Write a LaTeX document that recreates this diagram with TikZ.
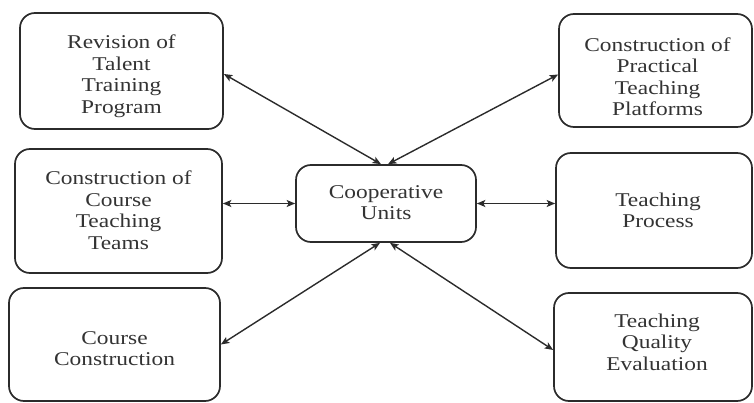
\documentclass[tikz,border=0pt]{standalone}
\usepackage{fontspec}
\setmainfont{Liberation Serif}[FakeStretch=1.2]
\usetikzlibrary{arrows.meta,calc}
\definecolor{inkgray}{gray}{0.17}
\definecolor{textgray}{gray}{0.2}
\begin{document}
\begin{tikzpicture}[x=1pt,y=-1pt,
  unitbox/.style={draw=inkgray, line width=1.7pt, rounded corners=15pt, inner sep=0pt},
  boxtext/.style={align=center, inner sep=0pt, text=textgray,
    font=\fontsize{19.5}{21.5}\selectfont},
  link/.style={draw=inkgray, line width=1.4pt,
    {Stealth[length=8.5pt,width=7pt,inset=2pt]}-{Stealth[length=8.5pt,width=7pt,inset=2pt]}}]
\useasboundingbox (0,0) rectangle (754,403);

% left column
\node[unitbox, minimum width=203pt, minimum height=116pt] (revision) at (121.5,71) {};
\node[boxtext] (revision-t) at ($(revision)+(0,5)$) {Revision of\\Talent\\Training\\Program};
\node[unitbox, minimum width=207pt, minimum height=124pt] (teams) at (118.5,211) {};
\node[boxtext] (teams-t) at ($(teams)+(0,-1)$) {Construction of\\Course\\Teaching\\Teams};
\node[unitbox, minimum width=211pt, minimum height=113pt] (course) at (114.5,344.5) {};
\node[boxtext] (course-t) at ($(course)+(0,4)$) {Course\\Construction};

% centre
\node[unitbox, minimum width=180pt, minimum height=77pt] (coop) at (386,203.5) {};
\node[boxtext] (coop-t) at ($(coop)+(0,-1)$) {Cooperative\\Units};

% right column
\node[unitbox, minimum width=193pt, minimum height=113pt] (platforms) at (655.5,70.5) {};
\node[boxtext] (platforms-t) at ($(platforms)+(2,6)$) {Construction of\\Practical\\Teaching\\Platforms};
\node[unitbox, minimum width=196pt, minimum height=115pt] (process) at (654,210.5) {};
\node[boxtext] (process-t) at ($(process)+(4,0)$) {Teaching\\Process};
\node[unitbox, minimum width=198pt, minimum height=108pt] (quality) at (653,347) {};
\node[boxtext] (quality-t) at ($(quality)+(4,-5)$) {Teaching\\Quality\\Evaluation};

% connectors
\draw[link] ($(revision.east)+(0,3)$) -- ($(coop.north)+(-5,0)$);
\draw[link] ($(coop.north)+(2,0)$) -- ($(platforms.west)+(0,4)$);
\draw[link] (teams.east |- coop.west) -- (coop.west);
\draw[link] (coop.east) -- (coop.east -| process.west);
\draw[link] (course.east) -- ($(coop.south)+(-6,0)$);
\draw[link] ($(coop.south)+(4,0)$) -- ($(quality.west)+(0,3)$);
\end{tikzpicture}
\end{document}
